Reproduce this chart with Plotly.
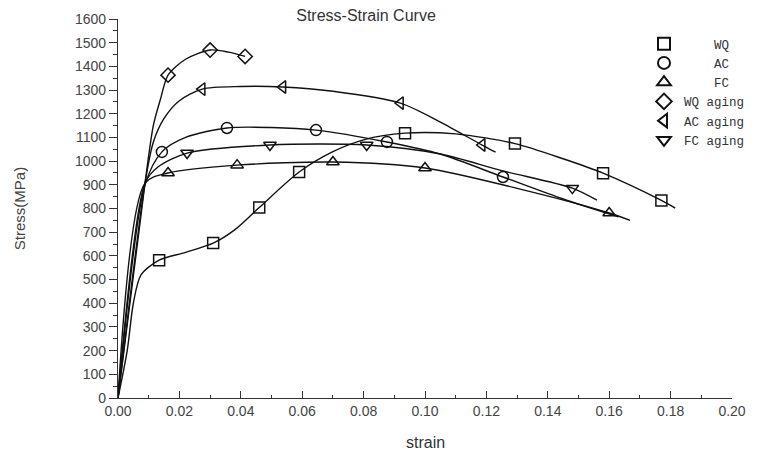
import plotly.graph_objects as go

# ---- data ----
series_names = ["WQ", "AC", "FC", "WQ aging", "AC aging", "FC aging"]
pad = "\u00a0\u00a0\u00a0\u00a0"
legend_labels = [pad + "WQ", pad + "AC", pad + "FC", "WQ aging", "AC aging", "FC aging"]
symbols = ["square-open", "circle-open", "triangle-up-open", "diamond-open",
           "triangle-left-open", "triangle-down-open"]

# curve traces (strain, stress MPa)
wq_x = [0, 0.003, 0.005, 0.0075, 0.0134, 0.022, 0.031, 0.038, 0.046, 0.059, 0.070, 0.080, 0.0935, 0.110, 0.1293, 0.145, 0.158, 0.177, 0.1815]
wq_y = [0, 200, 400, 520, 582, 615, 654, 710, 804, 954, 1040, 1090, 1118, 1115, 1074, 1010, 949, 834, 802]
ac_x = [0, 0.0088, 0.0143, 0.022, 0.0355, 0.050, 0.0645, 0.0876, 0.105, 0.1254, 0.145, 0.163]
ac_y = [0, 900, 1039, 1100, 1140, 1142, 1131, 1081, 1030, 933, 840, 765]
fc_x = [0, 0.0088, 0.0163, 0.0388, 0.070, 0.100, 0.130, 0.160, 0.1668]
fc_y = [0, 907, 950, 983, 996, 971, 885, 781, 750]
wqa_x = [0, 0.0088, 0.0115, 0.0138, 0.0163, 0.022, 0.030, 0.036, 0.0414]
wqa_y = [0, 907, 1150, 1260, 1363, 1430, 1469, 1460, 1442]
aca_x = [0, 0.0088, 0.0115, 0.015, 0.020, 0.0274, 0.040, 0.0537, 0.070, 0.092, 0.105, 0.1186, 0.123]
aca_y = [0, 907, 1080, 1180, 1255, 1304, 1315, 1313, 1295, 1245, 1165, 1068, 1038]
fca_x = [0, 0.0088, 0.013, 0.0225, 0.0495, 0.081, 0.105, 0.125, 0.148, 0.156]
fca_y = [0, 907, 975, 1034, 1068, 1068, 1030, 960, 886, 835]

# marker positions
wq_mx = [0.0134, 0.031, 0.046, 0.059, 0.0935, 0.1293, 0.158, 0.177]
wq_my = [582, 654, 804, 954, 1118, 1074, 949, 834]
ac_mx = [0.0143, 0.0355, 0.0645, 0.0876, 0.1254]
ac_my = [1039, 1140, 1131, 1081, 933]
fc_mx = [0.0163, 0.0388, 0.070, 0.100, 0.160]
fc_my = [950, 983, 996, 971, 781]
wqa_mx = [0.0163, 0.030, 0.0414]
wqa_my = [1363, 1469, 1442]
aca_mx = [0.0274, 0.0537, 0.092, 0.1186]
aca_my = [1304, 1313, 1245, 1068]
fca_mx = [0.0225, 0.0495, 0.081, 0.148]
fca_my = [1034, 1068, 1068, 886]

curves = [(wq_x, wq_y), (ac_x, ac_y), (fc_x, fc_y), (wqa_x, wqa_y), (aca_x, aca_y), (fca_x, fca_y)]
marks = [(wq_mx, wq_my), (ac_mx, ac_my), (fc_mx, fc_my), (wqa_mx, wqa_my), (aca_mx, aca_my), (fca_mx, fca_my)]

x_ticks = [0, 0.02, 0.04, 0.06, 0.08, 0.10, 0.12, 0.14, 0.16, 0.18, 0.20]
x_tick_text = ["0.00", "0.02", "0.04", "0.06", "0.08", "0.10", "0.12", "0.14", "0.16", "0.18", "0.20"]
y_ticks = list(range(0, 1601, 100))

fig = go.Figure()
for (cx, cy), name in zip(curves, series_names):
    fig.add_trace(go.Scatter(x=cx, y=cy, mode="lines", line=dict(color="#111", width=1.4, shape="spline", smoothing=0.8),
                             showlegend=False, hoverinfo="skip", name=name))
for (mx, my), sym, lab in zip(marks, symbols, legend_labels):
    fig.add_trace(go.Scatter(x=mx, y=my, mode="markers", name=lab,
                             marker=dict(symbol=sym, size=11, color="#111", line=dict(width=1.5, color="#111"))))

axis_font = dict(family="Liberation Sans, Arial", size=14, color="#444")
fig.update_layout(
    width=771, height=455,
    margin=dict(l=118, r=39, t=19, b=57),
    paper_bgcolor="white", plot_bgcolor="white",
    title=dict(text="Stress-Strain Curve", x=366 / 771, xanchor="center", xref="container",
               y=1 - 15 / 455, yanchor="middle", yref="container",
               font=dict(family="Liberation Sans, Arial", size=16, color="#333")),
    legend=dict(x=(644 - 118) / 614, y=(398 - 29) / 379, xanchor="left", yanchor="top",
                bgcolor="rgba(0,0,0,0)", font=dict(family="Liberation Mono, DejaVu Sans Mono", size=12.5, color="#333"),
                itemsizing="constant", tracegroupgap=0),
    xaxis=dict(range=[0, 0.2], tickvals=x_ticks, ticktext=x_tick_text, showgrid=False, zeroline=False,
               showline=True, linecolor="#333", linewidth=1.3, ticks="inside", ticklen=7, tickcolor="#333",
               tickfont=axis_font, minor=dict(dtick=0.01, ticks="inside", ticklen=3, tickcolor="#333"),
               automargin=False),
    yaxis=dict(range=[0, 1600], tickvals=y_ticks, showgrid=False, zeroline=False,
               showline=True, linecolor="#333", linewidth=1.3, ticks="outside", ticklen=8, tickcolor="#333",
               tickfont=axis_font, minor=dict(dtick=50, ticks="outside", ticklen=4, tickcolor="#333"),
               automargin=False,
               title=dict(text="Stress(MPa)", font=dict(family="Liberation Sans, Arial", size=15, color="#444"), standoff=45)),
    annotations=[dict(text="strain", xref="paper", yref="paper", x=0.5, y=0, yshift=-44,
                      xanchor="center", yanchor="middle", showarrow=False,
                      font=dict(family="Liberation Sans, Arial", size=16, color="#333"))],
)
fig.write_html("out.html")
